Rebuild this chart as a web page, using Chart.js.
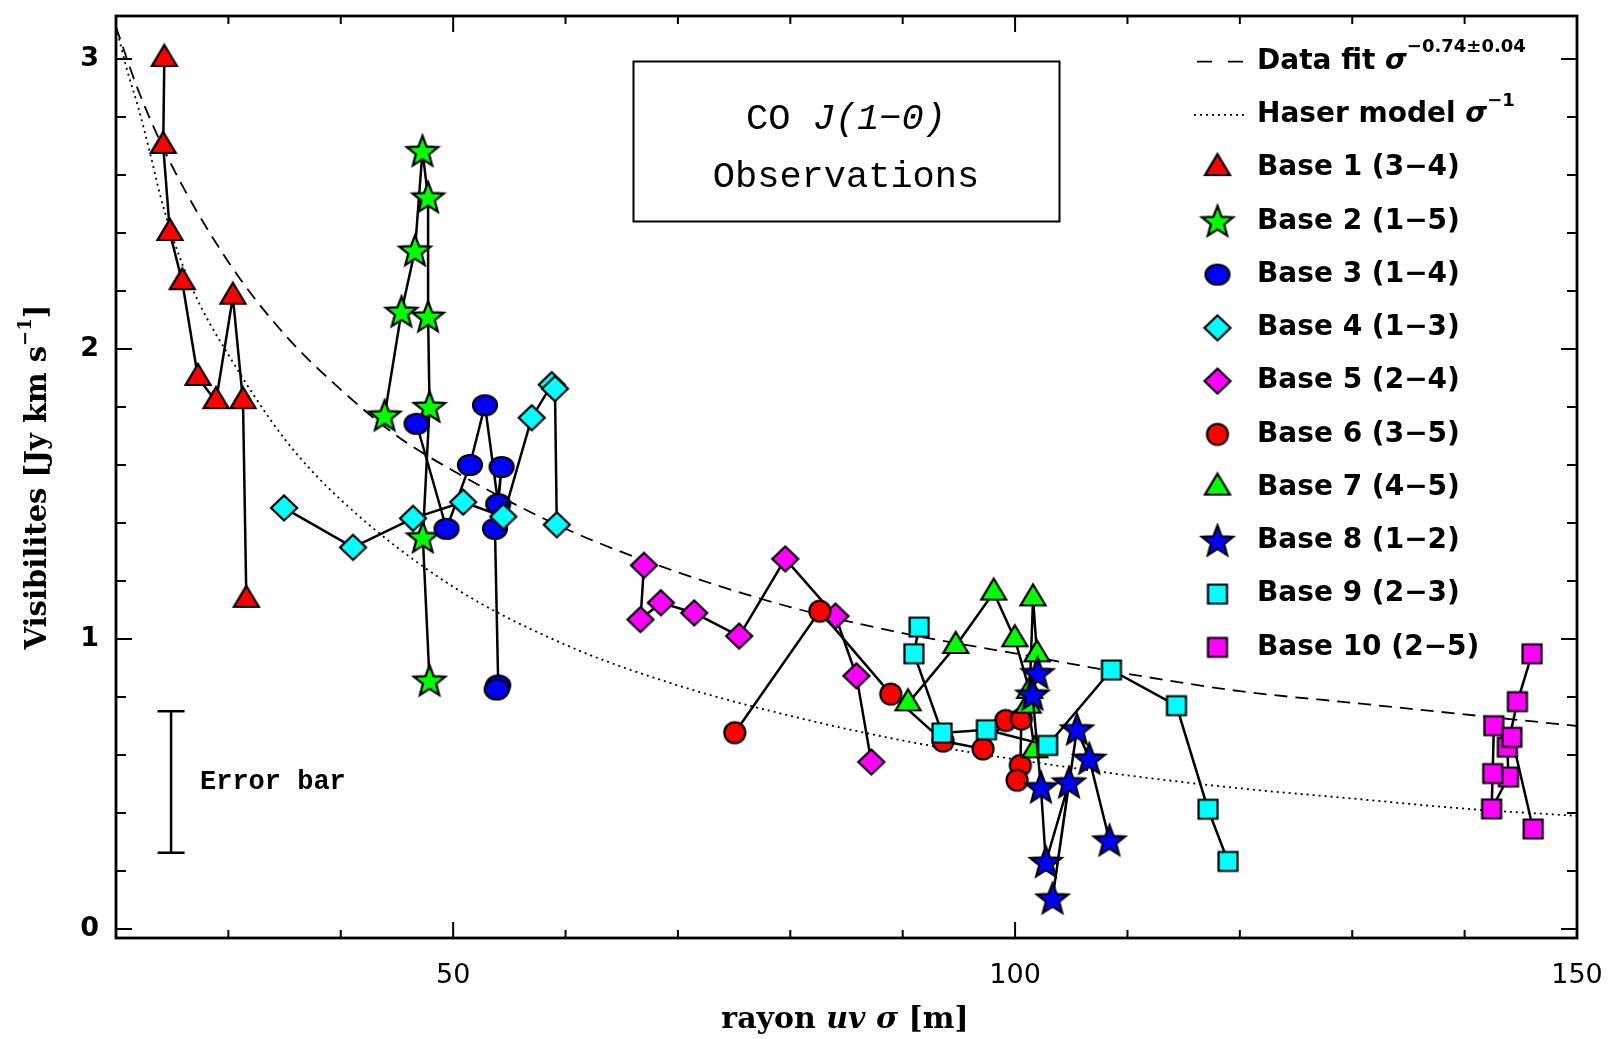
<!DOCTYPE html>
<html>
<head>
<meta charset="utf-8">
<title>CO J(1-0) visibilities</title>
<script src="https://cdn.jsdelivr.net/npm/chart.js@4.4.1/dist/chart.umd.min.js"></script>
<style>
  html, body { margin: 0; padding: 0; background: #fff; }
  canvas { display: block; }
</style>
</head>
<body>
<canvas id="visChart" width="1611" height="1039"></canvas>
<script>
// [uv radius sigma (m), visibility (Jy km/s)] for each baseline, in observing order
const base1 = [[24.3, 3.00], [24.2, 2.70], [24.8, 2.40], [25.9, 2.23], [27.3, 1.90], [28.9, 1.82], [30.4, 2.18], [31.3, 1.82], [31.6, 1.135]];
const base2 = [[43.9, 1.77], [45.4, 2.128], [46.6, 2.339], [47.27, 2.682], [47.77, 2.522], [47.77, 2.111], [47.9, 1.80], [47.3, 1.35], [47.9, 0.856]];
const base3 = [[46.74, 1.742], [49.41, 1.380], [51.49, 1.600], [52.83, 1.806], [54.01, 1.465], [54.31, 1.593], [53.72, 1.380], [54.01, 0.840], [53.87, 0.826]];
const base4 = [[34.95, 1.452], [41.09, 1.316], [46.43, 1.416], [50.89, 1.472], [54.46, 1.422], [56.99, 1.763], [58.77, 1.877], [59.06, 1.863], [59.22, 1.394]];
const base5 = [[66.98, 1.254], [66.67, 1.067], [68.48, 1.125], [71.45, 1.090], [75.45, 1.010], [79.55, 1.276], [84.02, 1.079], [85.88, 0.873], [87.21, 0.576]];
const base6 = [[75.06, 0.677], [82.62, 1.096], [88.94, 0.810], [93.6, 0.648], [97.15, 0.621], [99.17, 0.719], [100.56, 0.724], [100.47, 0.564], [100.18, 0.513]];
const base7 = [[90.48, 0.778], [94.72, 0.976], [98.1, 1.16], [99.98, 0.999], [101.3, 0.821], [101.6, 1.14], [101.95, 0.947], [101.16, 0.770], [101.75, 0.616]];
const base8 = [[102.0, 0.882], [101.55, 0.808], [102.3, 0.488], [102.74, 0.231], [104.8, 0.505], [103.33, 0.105], [105.5, 0.688], [106.6, 0.587], [108.4, 0.305]];
const base9 = [[91.46, 1.041], [91.0, 0.949], [93.5, 0.676], [97.45, 0.687], [102.9, 0.633], [108.57, 0.893], [114.36, 0.770], [117.17, 0.413], [118.95, 0.233]];
const base10 = [[146.0, 0.949], [144.7, 0.784], [143.8, 0.627], [143.9, 0.524], [142.4, 0.414], [142.5, 0.536], [142.6, 0.701], [144.2, 0.661], [146.1, 0.345]];

const baseLabels = ['Base 1 (3−4)', 'Base 2 (1−5)', 'Base 3 (1−4)', 'Base 4 (1−3)', 'Base 5 (2−4)',
                    'Base 6 (3−5)', 'Base 7 (4−5)', 'Base 8 (1−2)', 'Base 9 (2−3)', 'Base 10 (2−5)'];

// power-law fit sigma^-0.74 and Haser model sigma^-1
const fitSigma = [20, 22, 25, 30, 35, 40, 45, 50, 60, 70, 80, 90, 100, 110, 120, 130, 140, 150];
const fitVis = [3.11, 2.89, 2.63, 2.30, 2.05, 1.86, 1.70, 1.58, 1.38, 1.23, 1.11, 1.02, 0.95, 0.88, 0.82, 0.78, 0.74, 0.70];
const haserSigma = [20, 21, 22, 23, 24, 25, 27, 30, 35, 40, 50, 60, 70, 80, 90, 100, 110, 120, 130, 140, 150];
const haserVis = [3.11, 2.96, 2.83, 2.68, 2.52, 2.39, 2.19, 1.98, 1.69, 1.48, 1.18, 0.98, 0.84, 0.735, 0.65, 0.585, 0.53, 0.485, 0.45, 0.415, 0.39];

// typical error bar
const errSigma = 24.9;
const errVis = [0.263, 0.751];

const xMajorTicks = [50, 100, 150];
const xMinorTicks = [30, 40, 60, 70, 80, 90, 110, 120, 130, 140];
const yMajorTicks = [0, 1, 2, 3];
const yMinorTicks = [0.2, 0.4, 0.6, 0.8, 1.2, 1.4, 1.6, 1.8, 2.2, 2.4, 2.6, 2.8];

const baseStyles = [
  { shape: 'triangle', fill: '#ff0000' },
  { shape: 'star', fill: '#00ff00' },
  { shape: 'ellipse', fill: '#0000ff' },
  { shape: 'diamond', fill: '#00ffff' },
  { shape: 'diamond', fill: '#ff00ff' },
  { shape: 'circle', fill: '#ff0000' },
  { shape: 'triangle', fill: '#00ff00' },
  { shape: 'star', fill: '#0000ff' },
  { shape: 'square', fill: '#00ffff' },
  { shape: 'square', fill: '#ff00ff' }
];

function makeMarker(shape, fill) {
  const size = 40, m = size / 2;
  const c = document.createElement('canvas');
  c.width = c.height = size;
  const g = c.getContext('2d');
  g.beginPath();
  if (shape === 'triangle') {
    g.moveTo(m, m - 14);
    g.lineTo(m + 12.5, m + 7);
    g.lineTo(m - 12.5, m + 7);
    g.closePath();
  } else if (shape === 'star') {
    for (let i = 0; i < 10; i++) {
      const a = -Math.PI / 2 + i * Math.PI / 5;
      const r = i % 2 === 0 ? 16.5 : 7;
      const px = m + r * Math.cos(a), py = m + 1 + r * Math.sin(a);
      if (i === 0) g.moveTo(px, py); else g.lineTo(px, py);
    }
    g.closePath();
  } else if (shape === 'ellipse') {
    g.ellipse(m, m, 12, 10, 0, 0, Math.PI * 2);
  } else if (shape === 'circle') {
    g.arc(m, m, 10.5, 0, Math.PI * 2);
  } else if (shape === 'diamond') {
    g.moveTo(m, m - 12.5);
    g.lineTo(m + 13, m);
    g.lineTo(m, m + 12.5);
    g.lineTo(m - 13, m);
    g.closePath();
  } else {
    g.rect(m - 9.5, m - 9.5, 19, 19);
  }
  g.fillStyle = fill;
  g.fill();
  g.lineWidth = 2.2;
  g.lineJoin = 'miter';
  g.strokeStyle = '#000';
  g.stroke();
  return c;
}

const markers = baseStyles.map(s => makeMarker(s.shape, s.fill));
const toXY = pts => pts.map(p => ({ x: p[0], y: p[1] }));

const datasets = [
  {
    label: 'fit',
    data: fitSigma.map((s, i) => ({ x: s, y: fitVis[i] })),
    showLine: true, pointRadius: 0, borderColor: '#000', borderWidth: 1.8,
    borderDash: [13, 8], tension: 0.4, cubicInterpolationMode: 'monotone', order: 40
  },
  {
    label: 'haser',
    data: haserSigma.map((s, i) => ({ x: s, y: haserVis[i] })),
    showLine: true, pointRadius: 0, borderColor: '#000', borderWidth: 1.8,
    borderDash: [2, 4], tension: 0.4, cubicInterpolationMode: 'monotone', order: 39
  },
  {
    label: 'error',
    data: errVis.map(v => ({ x: errSigma, y: v })),
    showLine: true, borderColor: '#000', borderWidth: 2.5,
    pointStyle: 'line', pointRadius: 13.5, pointBorderWidth: 2.5, pointBorderColor: '#000', order: 38
  }
];

[base1, base2, base3, base4, base5, base6, base7, base8, base9, base10].forEach((pts, i) => {
  datasets.push({
    label: baseLabels[i],
    data: toXY(pts),
    showLine: true, borderColor: '#000', borderWidth: 2.5,
    pointStyle: markers[i], pointRadius: 10,
    order: 20 - i
  });
});

// text made of runs with their own font and vertical offset
function drawRuns(ctx, runs, x, y, align) {
  let total = 0;
  runs.forEach(r => { ctx.font = r.font; r.w = ctx.measureText(r.text).width; total += r.w; });
  let cx = align === 'center' ? x - total / 2 : x;
  runs.forEach(r => {
    ctx.font = r.font;
    ctx.fillText(r.text, cx, y + (r.dy || 0));
    cx += r.w;
  });
}

const LEG = '"DejaVu Sans", sans-serif';
const SERIF = '"DejaVu Serif", serif';
const MONO = '"Liberation Mono", monospace';

// keep the plot frame fixed: no extra room for overhanging tick labels
function fixAxis(size, prop) {
  return s => {
    s[prop] = size;
    s.paddingLeft = s.paddingRight = s.paddingTop = s.paddingBottom = 0;
  };
}

const decorations = {
  id: 'decorations',
  afterDraw(chart) {
    const ctx = chart.ctx;
    const { left, right, top, bottom } = chart.chartArea;
    const xs = chart.scales.x, ys = chart.scales.y;
    ctx.save();
    ctx.strokeStyle = '#000';
    ctx.fillStyle = '#000';

    // frame
    ctx.lineWidth = 2.8;
    ctx.strokeRect(left, top, right - left, bottom - top);

    // inward ticks on all four sides
    ctx.lineWidth = 2;
    ctx.beginPath();
    const xTick = (v, len) => {
      const px = xs.getPixelForValue(v);
      ctx.moveTo(px, bottom); ctx.lineTo(px, bottom - len);
      ctx.moveTo(px, top); ctx.lineTo(px, top + len);
    };
    const yTick = (v, len) => {
      const py = ys.getPixelForValue(v);
      ctx.moveTo(left, py); ctx.lineTo(left + len, py);
      ctx.moveTo(right, py); ctx.lineTo(right - len, py);
    };
    xMajorTicks.forEach(v => xTick(v, 16));
    xMinorTicks.forEach(v => xTick(v, 8));
    yMajorTicks.forEach(v => yTick(v, 16));
    yMinorTicks.forEach(v => yTick(v, 10));
    ctx.stroke();

    // title box
    ctx.lineWidth = 2;
    ctx.strokeRect(633.5, 61.5, 426, 160);
    ctx.textBaseline = 'middle';
    drawRuns(ctx, [
      { text: 'CO ', font: '37px ' + MONO },
      { text: 'J(1−0)', font: 'italic 37px ' + MONO }
    ], 846, 119, 'center');
    drawRuns(ctx, [{ text: 'Observations', font: '37px ' + MONO }], 846, 177, 'center');

    // error bar label
    drawRuns(ctx, [{ text: 'Error bar', font: 'bold 27px ' + MONO }], 200, 782, 'left');

    // legend
    const rowY = i => 61.6 + 53.25 * i;
    const symX = 1217.5, textX = 1257;
    ctx.lineWidth = 1.8;
    ctx.setLineDash([15, 16]);
    ctx.beginPath(); ctx.moveTo(1197, rowY(0)); ctx.lineTo(1243, rowY(0)); ctx.stroke();
    ctx.setLineDash([2, 4]);
    ctx.beginPath(); ctx.moveTo(1194, rowY(1)); ctx.lineTo(1246, rowY(1)); ctx.stroke();
    ctx.setLineDash([]);
    drawRuns(ctx, [
      { text: 'Data fit ', font: 'bold 28px ' + LEG },
      { text: 'σ', font: 'italic bold 28px ' + LEG },
      { text: '−0.74±0.04', font: 'bold 18px ' + LEG, dy: -14 }
    ], textX, rowY(0), 'left');
    drawRuns(ctx, [
      { text: 'Haser model ', font: 'bold 28px ' + LEG },
      { text: 'σ', font: 'italic bold 28px ' + LEG },
      { text: '−1', font: 'bold 18px ' + LEG, dy: -14 }
    ], textX, rowY(1), 'left');
    baseLabels.forEach((lab, i) => {
      const y = rowY(i + 2);
      const mk = markers[i];
      ctx.drawImage(mk, symX - mk.width / 2, y - mk.height / 2);
      drawRuns(ctx, [{ text: lab, font: 'bold 28px ' + LEG }], textX, y, 'left');
    });

    // axis titles
    drawRuns(ctx, [
      { text: 'rayon ', font: 'bold 30px ' + SERIF },
      { text: 'uv', font: 'italic bold 30px ' + SERIF },
      { text: ' ', font: 'bold 30px ' + SERIF },
      { text: 'σ', font: 'italic bold 30px ' + SERIF },
      { text: ' [m]', font: 'bold 30px ' + SERIF }
    ], 845, 1020, 'center');
    ctx.translate(38, 477);
    ctx.rotate(-Math.PI / 2);
    drawRuns(ctx, [
      { text: 'Visibilites [Jy km s', font: 'bold 29px ' + SERIF },
      { text: '−1', font: 'bold 18px ' + SERIF, dy: -12 },
      { text: ']', font: 'bold 29px ' + SERIF }
    ], 0, 0, 'center');
    ctx.restore();
  }
};

new Chart(document.getElementById('visChart'), {
  type: 'scatter',
  data: { datasets },
  options: {
    responsive: false,
    animation: false,
    events: [],
    layout: { padding: { left: 0, right: 34, top: 10, bottom: 0 } },
    plugins: { legend: { display: false }, tooltip: { enabled: false } },
    scales: {
      x: {
        type: 'linear', min: 20, max: 150,
        afterBuildTicks: s => { s.ticks = xMajorTicks.map(v => ({ value: v })); },
        afterFit: fixAxis(101, 'height'),
        grid: { display: false, drawTicks: false },
        border: { display: false },
        ticks: { color: '#000', padding: 22, maxRotation: 0, font: { family: 'DejaVu Sans', size: 27 } }
      },
      y: {
        type: 'linear', min: -0.031, max: 3.148,
        afterBuildTicks: s => { s.ticks = yMajorTicks.map(v => ({ value: v })); },
        afterFit: fixAxis(116, 'width'),
        grid: { display: false, drawTicks: false },
        border: { display: false },
        ticks: { color: '#000', padding: 17, font: { family: 'DejaVu Sans', size: 27, weight: 'bold' } }
      }
    }
  },
  plugins: [decorations]
});
</script>
</body>
</html>
